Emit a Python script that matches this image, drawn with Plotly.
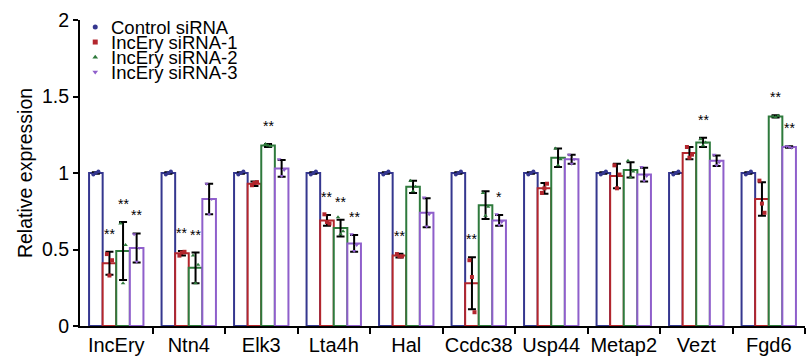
import plotly.graph_objects as go

# ---------------- data ----------------
categories = ["IncEry", "Ntn4", "Elk3", "Lta4h", "Hal", "Ccdc38", "Usp44", "Metap2", "Vezt", "Fgd6"]
group_names = ["Control siRNA", "IncEry siRNA-1", "IncEry siRNA-2", "IncEry siRNA-3"]

ctrl_mean = [1.0, 1.0, 1.0, 1.0, 1.0, 1.0, 1.0, 1.0, 1.0, 1.0]
si1_mean = [0.41, 0.475, 0.93, 0.69, 0.46, 0.28, 0.90, 0.98, 1.13, 0.83]
si2_mean = [0.49, 0.38, 1.18, 0.64, 0.91, 0.79, 1.10, 1.02, 1.20, 1.37]
si3_mean = [0.51, 0.83, 1.03, 0.54, 0.74, 0.69, 1.09, 0.99, 1.08, 1.17]

ctrl_err = [0.005, 0.005, 0.005, 0.005, 0.005, 0.005, 0.005, 0.005, 0.005, 0.005]
si1_err = [0.075, 0.015, 0.015, 0.035, 0.012, 0.17, 0.035, 0.08, 0.04, 0.11]
si2_err = [0.19, 0.10, 0.01, 0.055, 0.04, 0.09, 0.06, 0.05, 0.03, 0.008]
si3_err = [0.095, 0.10, 0.055, 0.055, 0.095, 0.035, 0.03, 0.045, 0.035, 0.005]

# replicate points (3 per bar)
ctrl_reps = [[0.99, 1.0, 1.01]] * 10
si1_reps = [[0.47, 0.33, 0.43], [0.46, 0.48, 0.485], [0.92, 0.935, 0.94], [0.73, 0.68, 0.67],
            [0.47, 0.455, 0.455], [0.43, 0.32, 0.09], [0.87, 0.90, 0.93], [1.05, 0.90, 0.99],
            [1.17, 1.10, 1.12], [0.95, 0.80, 0.74]]
si2_reps = [[0.67, 0.28, 0.53], [0.46, 0.28, 0.40], [1.19, 1.18, 1.175], [0.71, 0.60, 0.62],
            [0.95, 0.88, 0.91], [0.87, 0.72, 0.78], [1.16, 1.05, 1.09], [1.08, 0.97, 1.01],
            [1.22, 1.18, 1.20], [1.37, 1.365, 1.375]]
si3_reps = [[0.60, 0.42, 0.51], [0.93, 0.73, 0.83], [1.09, 0.98, 1.02], [0.60, 0.49, 0.53],
            [0.84, 0.65, 0.73], [0.73, 0.66, 0.68], [1.12, 1.06, 1.09], [1.04, 0.95, 0.98],
            [1.12, 1.05, 1.07], [1.175, 1.17, 1.165]]

# significance marks
ctrl_sig = [""] * 10
si1_sig = ["**", "**", "", "**", "**", "**", "", "", "", ""]
si2_sig = ["**", "**", "**", "**", "", "", "", "", "**", "**"]
si3_sig = ["**", "", "", "**", "", "*", "", "", "", "**"]

y_ticks = [0, 0.5, 1, 1.5, 2]
y_ticktext = ["0", "0.5", "1", "1.5", "2"]

# ---------------- style ----------------
colors = ["#35378f", "#b3262d", "#2e7a3c", "#8f5fcb"]
symbols = ["circle", "square", "triangle-up", "triangle-down"]
FONT = "Arial, Liberation Sans, sans-serif"

means = [ctrl_mean, si1_mean, si2_mean, si3_mean]
errs = [ctrl_err, si1_err, si2_err, si3_err]
reps = [ctrl_reps, si1_reps, si2_reps, si3_reps]
sigs = [ctrl_sig, si1_sig, si2_sig, si3_sig]

n = len(categories)
xi = list(range(n))
bargap = 0.25
bw = (1 - bargap) / 4
jit = [-0.035, 0.0, 0.035]

fig = go.Figure()
for j in range(4):
    fig.add_trace(go.Bar(
        x=xi, y=means[j], name=group_names[j], showlegend=False,
        marker=dict(color="white", line=dict(color=colors[j], width=2)),
        error_y=dict(type="data", array=errs[j], color="black", thickness=2, width=4),
    ))

annotations = []
for j in range(4):
    off = (j - 1.5) * bw
    px, py = [], []
    for i in range(n):
        for k, v in enumerate(reps[j][i]):
            px.append(i + off + jit[k])
            py.append(v)
        if sigs[j][i]:
            annotations.append(dict(
                x=i + off, y=means[j][i] + errs[j][i], xref="x", yref="y",
                text=sigs[j][i], showarrow=False, yanchor="bottom", yshift=8,
                font=dict(family=FONT, size=14, color="black")))
    fig.add_trace(go.Scatter(
        x=px, y=py, mode="markers", showlegend=False, hoverinfo="skip",
        marker=dict(symbol=symbols[j], size=4, color=colors[j]),
    ))

# custom compact legend (overlay axes in plot-area fractions)
leg_y = [0.977, 0.928, 0.878, 0.830]
fig.add_trace(go.Scatter(
    x=[0.021] * 4, y=leg_y, mode="markers", xaxis="x2", yaxis="y2",
    showlegend=False, hoverinfo="skip",
    marker=dict(symbol=symbols, size=5, color=colors),
))
for j in range(4):
    annotations.append(dict(
        x=0.040, y=leg_y[j], xref="x2", yref="y2", text=group_names[j],
        showarrow=False, xanchor="left", yanchor="middle",
        font=dict(family=FONT, size=18.5, color="black")))

fig.update_layout(
    width=809, height=360,
    margin=dict(l=80, r=4, t=20, b=34),
    paper_bgcolor="white", plot_bgcolor="white",
    barmode="group", bargap=bargap, bargroupgap=0,
    font=dict(family=FONT, color="black"),
    annotations=annotations,
    xaxis=dict(
        range=[-0.5, n - 0.5], tickvals=xi, ticktext=categories, ticks="",
        showline=True, linecolor="black", linewidth=2, showgrid=False, zeroline=False,
        tickfont=dict(family=FONT, size=20, color="black"),
        minor=dict(tickmode="array", tickvals=[i + 0.5 for i in xi], ticks="outside",
                   ticklen=6, tickwidth=2, tickcolor="black"),
    ),
    yaxis=dict(
        range=[0, 2], tickvals=y_ticks, ticktext=y_ticktext, ticks="outside",
        ticklen=5, tickwidth=2, tickcolor="black",
        showline=True, linecolor="black", linewidth=2, showgrid=False, zeroline=False,
        tickfont=dict(family=FONT, size=19.5, color="black"),
        title=dict(text="Relative expression", standoff=4,
                   font=dict(family=FONT, size=19.5, color="black")),
    ),
    xaxis2=dict(overlaying="x", range=[0, 1], visible=False, fixedrange=True),
    yaxis2=dict(overlaying="y", range=[0, 1], visible=False, fixedrange=True),
)

fig.write_html("out.html", config={"displayModeBar": False},
               post_script="document.body.style.margin='0';")
